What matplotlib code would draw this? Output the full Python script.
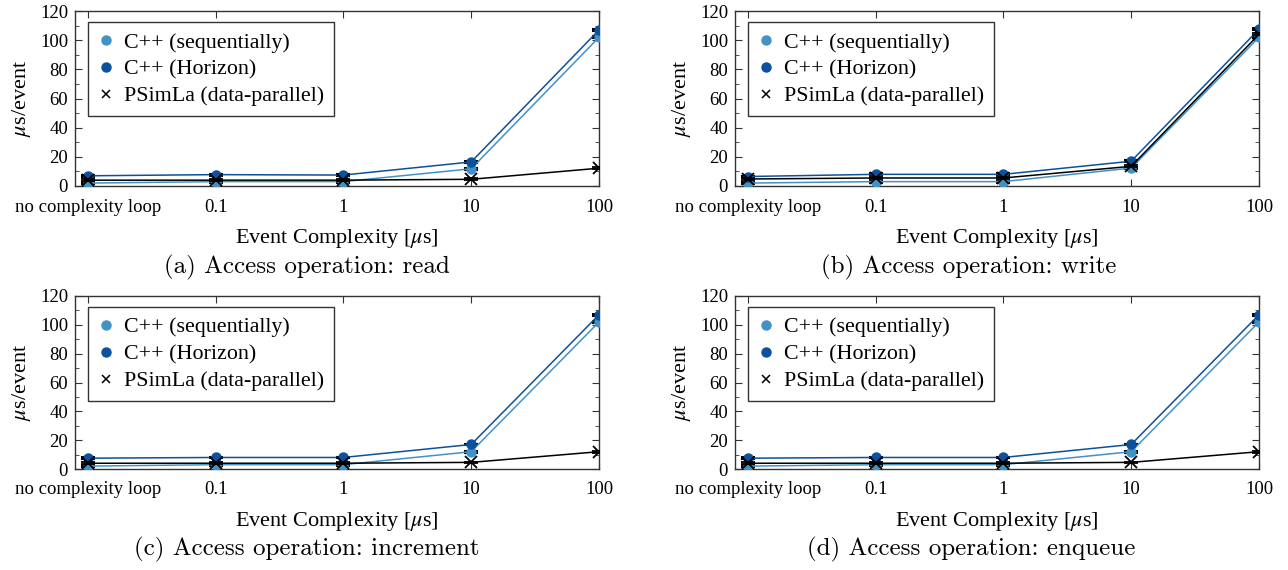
import matplotlib
matplotlib.use("Agg")
import matplotlib.pyplot as plt
from matplotlib.ticker import MultipleLocator
from matplotlib.lines import Line2D

plt.rcParams['font.family'] = ['Liberation Serif', 'DejaVu Serif']
plt.rcParams['mathtext.fontset'] = 'stix'

categories = ["no complexity loop", "0.1", "1", "10", "100"]

# (a) read
read_seq = [2.0, 3.0, 3.0, 11.8, 102.0]
read_hor = [7.0, 7.8, 7.5, 16.5, 107.0]
read_psim = [4.0, 4.0, 4.0, 4.6, 12.2]
# (b) write
write_seq = [2.0, 3.0, 3.0, 12.3, 102.0]
write_hor = [6.5, 8.0, 8.0, 17.0, 107.5]
write_psim = [4.8, 5.5, 5.5, 13.5, 104.0]
# (c) increment
inc_seq = [2.0, 3.0, 3.0, 12.0, 102.0]
inc_hor = [7.5, 8.0, 8.0, 17.0, 107.0]
inc_psim = [4.0, 4.0, 4.0, 4.6, 12.0]
# (d) enqueue
enq_seq = [2.0, 3.0, 3.0, 12.0, 102.0]
enq_hor = [7.5, 8.0, 8.0, 17.0, 107.0]
enq_psim = [4.0, 4.0, 4.0, 4.6, 12.0]

err = 0.6
captions = ["(a) Access operation: read", "(b) Access operation: write",
            "(c) Access operation: increment", "(d) Access operation: enqueue"]
panels = [(read_seq, read_hor, read_psim), (write_seq, write_hor, write_psim),
          (inc_seq, inc_hor, inc_psim), (enq_seq, enq_hor, enq_psim)]

c_light = '#4292c6'
c_dark = '#0b519c'

fig = plt.figure(figsize=(12.88, 5.70), dpi=100)
W, H = 1288, 570
boxes = [(75, 11, 599, 186), (735, 11, 1259, 186),
         (75, 296, 599, 469), (735, 296, 1259, 469)]
cap_x = [307, 969, 307, 971]
cap_y = [267, 267, 549, 549]

for i, (box, (seq, hor, psim)) in enumerate(zip(boxes, panels)):
    l, t, r, b = box
    ax = fig.add_axes([l / W, 1 - b / H, (r - l) / W, (b - t) / H])
    x = list(range(len(categories)))
    ax.errorbar(x, seq, yerr=err, color=c_light, lw=1.1, marker='o', ms=6.5,
                ecolor='black', elinewidth=1, capsize=5, capthick=1.5, zorder=3)
    ax.errorbar(x, hor, yerr=err, color=c_dark, lw=1.1, marker='o', ms=6.5,
                ecolor='black', elinewidth=1, capsize=5, capthick=1.5, zorder=3)
    ax.errorbar(x, psim, yerr=err, color='black', lw=1.1, marker='x', ms=8, mew=1.3,
                ecolor='black', elinewidth=1, capsize=5, capthick=1.5, zorder=4)
    ax.set_xlim(-0.1, 4.0)
    ax.set_ylim(0, 120)
    ax.set_xticks(x)
    ax.set_xticklabels(categories, fontsize=13.5)
    ax.yaxis.set_major_locator(MultipleLocator(20))
    ax.yaxis.set_minor_locator(MultipleLocator(10))
    ax.tick_params(axis='both', which='both', direction='in', top=True, right=True,
                   labelsize=13.5, color='#333333')
    ax.tick_params(which='major', length=5)
    ax.tick_params(which='minor', length=3)
    ax.tick_params(axis='x', pad=9)
    ax.tick_params(axis='y', pad=5)
    for s in ax.spines.values():
        s.set_color('#333333')
        s.set_linewidth(1.0)
    ax.set_ylabel(r'$\mu$s/event', fontsize=16, labelpad=5)
    ax.set_xlabel(r'Event Complexity [$\mu$s]', fontsize=16, labelpad=8)
    handles = [Line2D([], [], ls='none', marker='o', ms=6.5, color=c_light),
               Line2D([], [], ls='none', marker='o', ms=6.5, color=c_dark),
               Line2D([], [], ls='none', marker='x', ms=6, mew=1.1, color='black')]
    leg = ax.legend(handles, ["C++ (sequentially)", "C++ (Horizon)", "PSimLa (data-parallel)"],
                    loc='upper left', bbox_to_anchor=(0.025, 0.935), borderaxespad=0,
                    fontsize=15.8, fancybox=False, framealpha=1, edgecolor='#333333',
                    handlelength=0.7, handletextpad=0.5, borderpad=0.45, labelspacing=0.3)
    leg.get_frame().set_linewidth(1.0)
    fig.text(cap_x[i] / W, 1 - cap_y[i] / H, captions[i], fontsize=18,
             family='cmr10', ha='center', va='center')

fig.savefig('out.png', dpi=100)
